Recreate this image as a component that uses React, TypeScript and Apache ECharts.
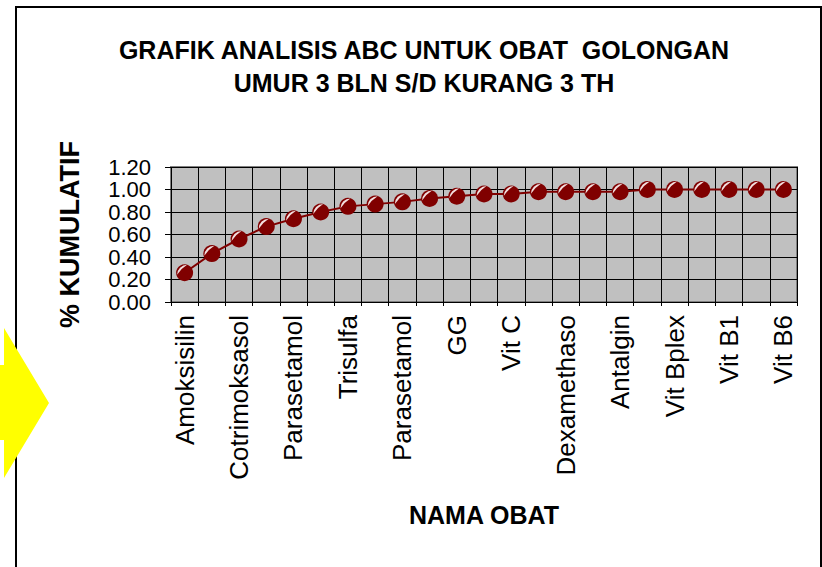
import React, { useEffect, useRef } from "react";
import * as echarts from "echarts";

const titleLines = ["GRAFIK ANALISIS ABC UNTUK OBAT  GOLONGAN", "UMUR 3 BLN S/D KURANG 3 TH"];
const xAxisTitle = "NAMA OBAT";
const yAxisTitle = "% KUMULATIF";

// 23 drugs; only every second name is printed on the axis in the reference
const categories = [
  "Amoksisilin", "", "Cotrimoksasol", "", "Parasetamol", "", "Trisulfa", "",
  "Parasetamol", "", "GG", "", "Vit C", "", "Dexamethaso", "", "Antalgin", "",
  "Vit Bplex", "", "Vit B1", "", "Vit B6",
];

const cumulative = [
  0.26, 0.43, 0.56, 0.67, 0.74, 0.8, 0.85, 0.87, 0.89, 0.92, 0.94, 0.96,
  0.96, 0.98, 0.98, 0.98, 0.98, 1.0, 1.0, 1.0, 1.0, 1.0, 1.0,
];

const yMin = 0;
const yMax = 1.2;
const yStep = 0.2;
// tick labels split over two overlaid axes so that ECharts does not hide crowded ones
const yLabelsA = ["0.00", "0.40", "0.80", "1.20"];
const yLabelsB = ["0.20", "0.60", "1.00"];

const FONT = "'Liberation Sans', Arial, Helvetica, sans-serif";
const DARK_RED = "#800000";

export default function App() {
  const ref = useRef<HTMLDivElement>(null);

  useEffect(() => {
    if (!ref.current) return;
    const chart = echarts.init(ref.current, undefined, { renderer: "svg" });
    const labelStyle = {
      fontSize: 22,
      margin: 20,
      color: "#000",
      fontFamily: FONT,
      showMinLabel: true,
      showMaxLabel: true,
      hideOverlap: false,
    };
    chart.setOption({
      animation: false,
      backgroundColor: "#ffffff",
      textStyle: { fontFamily: FONT, color: "#000" },
      title: {
        text: titleLines.join("\n"),
        left: 419,
        top: 28,
        textAlign: "center",
        textStyle: {
          fontFamily: FONT,
          fontSize: 25,
          fontWeight: "bold",
          color: "#000",
          lineHeight: 33,
        },
      },
      grid: {
        left: 171,
        top: 167,
        width: 626,
        height: 135,
        show: true,
        backgroundColor: "#C0C0C0",
        borderColor: "#808080",
        borderWidth: 2,
      },
      xAxis: {
        type: "category",
        data: categories,
        boundaryGap: true,
        name: xAxisTitle,
        nameLocation: "middle",
        nameGap: 200,
        nameTextStyle: { fontFamily: FONT, fontSize: 25, fontWeight: "bold", color: "#000" },
        axisLine: { show: false },
        axisTick: { show: true, interval: 0, length: 4, lineStyle: { color: "#000", width: 1 } },
        splitLine: { show: true, interval: 0, lineStyle: { color: "#000", width: 1 } },
        axisLabel: {
          interval: 1,
          rotate: 90,
          fontSize: 26,
          margin: 13,
          color: "#000",
          fontFamily: FONT,
        },
      },
      yAxis: [
        {
          type: "value",
          position: "left",
          min: yMin,
          max: yMax,
          interval: yStep,
          name: yAxisTitle,
          nameLocation: "middle",
          nameGap: 88,
          nameTextStyle: { fontFamily: FONT, fontSize: 27, fontWeight: "bold", color: "#000" },
          axisLine: { show: false },
          axisTick: { show: true, length: 6, lineStyle: { color: "#000", width: 1 } },
          splitLine: { show: true, lineStyle: { color: "#000", width: 1 } },
          axisLabel: {
            ...labelStyle,
            formatter: (v: number) => (yLabelsA.includes(v.toFixed(2)) ? v.toFixed(2) : ""),
          },
        },
        {
          type: "value",
          position: "left",
          offset: 0,
          min: yMin,
          max: yMax,
          interval: yStep,
          axisLine: { show: false },
          axisTick: { show: false },
          splitLine: { show: false },
          axisLabel: {
            ...labelStyle,
            formatter: (v: number) => (yLabelsB.includes(v.toFixed(2)) ? v.toFixed(2) : ""),
          },
        },
      ],
      series: [
        {
          type: "line",
          yAxisIndex: 0,
          data: cumulative,
          symbol: "circle",
          symbolSize: 17,
          itemStyle: { color: DARK_RED, borderColor: DARK_RED, borderWidth: 0 },
          lineStyle: { color: DARK_RED, width: 2 },
          z: 3,
        },
        {
          type: "scatter",
          yAxisIndex: 0,
          data: cumulative,
          symbol: "path://M2 12A10 10 0 0 1 12 2A30 30 0 0 0 2 12Z",
          symbolSize: 10,
          symbolOffset: [-2.5, -3],
          itemStyle: { color: "#f3dede", opacity: 1 },
          silent: true,
          z: 4,
        },
      ],
      graphic: [
        {
          type: "rect",
          shape: { x: 16, y: 7, width: 805, height: 640 },
          style: { fill: "none", stroke: "#000", lineWidth: 2 },
          z: 1,
        },
        {
          type: "polygon",
          shape: {
            points: [
              [0, 365], [4, 365], [4, 328], [49, 403], [4, 478], [4, 440], [0, 440],
            ],
          },
          style: { fill: "#FFFF00" },
          z: 10,
        },
      ],
    });
    return () => chart.dispose();
  }, []);

  return (
    <div
      ref={ref}
      style={{ position: "fixed", left: 0, top: 0, width: 822, height: 567, background: "#fff" }}
    />
  );
}
